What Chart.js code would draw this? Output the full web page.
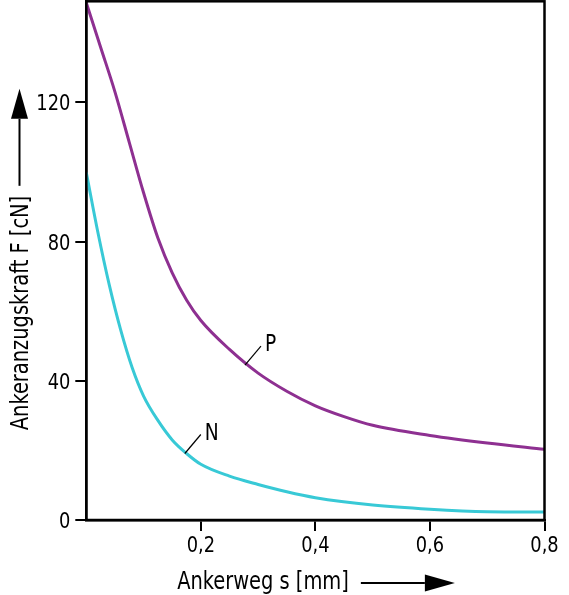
<!DOCTYPE html>
<html lang="de">
<head>
    <meta charset="UTF-8">
    <title>Ankeranzugskraft</title>
    <script src="https://cdn.jsdelivr.net/npm/chart.js"></script>
    <style>
        body {
            margin: 0;
            background: #fff;
        }

        canvas {
            display: block;
        }
    </style>
</head>
<body>
    <canvas id="forceChart" width="569" height="595"></canvas>

    <script>
        // Ankerweg s [mm] / Ankerzugskraft F [cN]
        const sP = [0, 0.025, 0.05, 0.075, 0.1, 0.125, 0.15, 0.175, 0.2, 0.25, 0.3, 0.35, 0.4, 0.45, 0.5, 0.6, 0.7, 0.8];
        const forceP = [148.6, 135.8, 123, 108.5, 94, 81, 71, 63.2, 57.3, 49, 42.2, 37, 32.8, 29.7, 27.2, 24.3, 22.1, 20.3];
        const sN = [0, 0.02, 0.04, 0.06, 0.08, 0.1, 0.125, 0.15, 0.175, 0.2, 0.25, 0.3, 0.35, 0.4, 0.5, 0.6, 0.7, 0.8];
        const forceN = [99.8, 82.8, 67.6, 54.6, 43.8, 35.6, 28.6, 23, 19.1, 16, 12.6, 10.2, 8.1, 6.4, 4.3, 3.1, 2.4, 2.3];

        const xTicks = [0.2, 0.4, 0.6, 0.8];
        const yTicks = [0, 40, 80, 120];
        const curveNames = ["P", "N"];
        const labelAnchors = [[0.277, 44.5], [0.172, 19.1]];

        const xTitle = "Ankerweg s [mm]";
        const yTitle = "Ankeranzugskraft F [cN]";

        const FONT = "'Liberation Sans Narrow', 'DejaVu Sans Condensed', sans-serif";
        const SQUEEZE = 0.9;   // the original uses a condensed face

        function toPoints(xs, ys) {
            return xs.map((x, i) => ({ x: x, y: ys[i] }));
        }

        function narrowText(ctx, text, x, y) {
            ctx.save();
            ctx.translate(x, y);
            ctx.scale(SQUEEZE, 1);
            ctx.fillText(text, 0, 0);
            ctx.restore();
        }

        function arrow(ctx, x1, y1, x2, y2) {
            // line from (x1,y1) with a filled head at (x2,y2)
            const ang = Math.atan2(y2 - y1, x2 - x1);
            const headLen = 30, half = 8.5;
            const bx = x2 - Math.cos(ang) * headLen;
            const by = y2 - Math.sin(ang) * headLen;
            ctx.beginPath();
            ctx.moveTo(x1, y1);
            ctx.lineTo(bx, by);
            ctx.lineWidth = 2;
            ctx.strokeStyle = "#000";
            ctx.stroke();
            ctx.beginPath();
            ctx.moveTo(x2, y2);
            ctx.lineTo(bx - Math.sin(ang) * half, by + Math.cos(ang) * half);
            ctx.lineTo(bx + Math.sin(ang) * half, by - Math.cos(ang) * half);
            ctx.closePath();
            ctx.fillStyle = "#000";
            ctx.fill();
        }

        const decorPlugin = {
            id: "decor",
            afterDraw(chart) {
                const ctx = chart.ctx;
                const area = chart.chartArea;
                const xs = chart.scales.x, ys = chart.scales.y;

                ctx.save();
                // frame round the plot
                ctx.strokeStyle = "#000";
                ctx.lineWidth = 2.5;
                ctx.strokeRect(area.left, area.top, area.right - area.left, area.bottom - area.top);

                ctx.fillStyle = "#000";
                ctx.textBaseline = "alphabetic";

                // tick labels
                ctx.font = "22px " + FONT;
                ctx.textAlign = "right";
                yTicks.forEach(v => {
                    narrowText(ctx, String(v), area.left - 16, ys.getPixelForValue(v) + 8);
                });
                ctx.textAlign = "center";
                xTicks.forEach(v => {
                    narrowText(ctx, v.toFixed(1).replace(".", ","), xs.getPixelForValue(v), area.bottom + 31.5);
                });

                // curve labels with leader lines
                ctx.font = "23px " + FONT;
                ctx.textAlign = "left";
                curveNames.forEach((name, i) => {
                    const px = xs.getPixelForValue(labelAnchors[i][0]);
                    const py = ys.getPixelForValue(labelAnchors[i][1]);
                    ctx.beginPath();
                    ctx.moveTo(px, py);
                    ctx.lineTo(px + 16, py - 19);
                    ctx.lineWidth = 1.2;
                    ctx.stroke();
                    narrowText(ctx, name, px + 20, py - 14);
                });

                // y title, rotated, with arrow upward
                ctx.font = "24px " + FONT;
                const yw = ctx.measureText(yTitle).width * SQUEEZE;
                const yc = 313;
                ctx.save();
                ctx.translate(28, yc);
                ctx.rotate(-Math.PI / 2);
                ctx.textAlign = "center";
                narrowText(ctx, yTitle, 0, 0);
                ctx.restore();
                const yEnd = yc - yw / 2 - 10;
                arrow(ctx, 19.5, yEnd, 19.5, yEnd - 97);

                // x title with arrow to the right
                ctx.textAlign = "left";
                const xw = ctx.measureText(xTitle).width * SQUEEZE;
                const xStart = 263 - xw / 2;
                narrowText(ctx, xTitle, xStart, 589);
                const xEnd = xStart + xw + 12;
                arrow(ctx, xEnd, 583, xEnd + 94, 583);
                ctx.restore();
            }
        };

        new Chart(document.getElementById("forceChart"), {
            type: "line",
            data: {
                datasets: [
                    {
                        label: "P",
                        data: toPoints(sP, forceP),
                        borderColor: "#8e3091",
                        borderWidth: 3,
                        pointRadius: 0,
                        cubicInterpolationMode: "monotone",
                        fill: false
                    },
                    {
                        label: "N",
                        data: toPoints(sN, forceN),
                        borderColor: "#38c9d6",
                        borderWidth: 3,
                        pointRadius: 0,
                        cubicInterpolationMode: "monotone",
                        fill: false
                    }
                ]
            },
            options: {
                responsive: false,
                animation: false,
                layout: {
                    padding: { top: 1.3, right: 24.5, left: 0, bottom: 0 }
                },
                plugins: {
                    legend: { display: false },
                    tooltip: { enabled: false }
                },
                scales: {
                    x: {
                        type: "linear",
                        min: 0,
                        max: 0.8,
                        afterBuildTicks: (scale) => {
                            scale.ticks = xTicks.map(v => ({ value: v }));
                        },
                        afterFit: (scale) => {
                            scale.height = 75;
                            scale.paddingLeft = 0;
                            scale.paddingRight = 0;
                        },
                        ticks: { display: false },
                        grid: {
                            drawOnChartArea: false,
                            color: "#000",
                            lineWidth: 2,
                            tickLength: 11
                        },
                        border: { color: "#000", width: 2.5 }
                    },
                    y: {
                        min: 0,
                        max: 149,
                        afterBuildTicks: (scale) => {
                            scale.ticks = yTicks.map(v => ({ value: v }));
                        },
                        afterFit: (scale) => {
                            scale.width = 86.3;
                            scale.paddingTop = 0;
                            scale.paddingBottom = 0;
                        },
                        ticks: { display: false },
                        grid: {
                            drawOnChartArea: false,
                            color: "#000",
                            lineWidth: 2,
                            tickLength: 11
                        },
                        border: { color: "#000", width: 2.5 }
                    }
                }
            },
            plugins: [decorPlugin]
        });
    </script>
</body>
</html>
